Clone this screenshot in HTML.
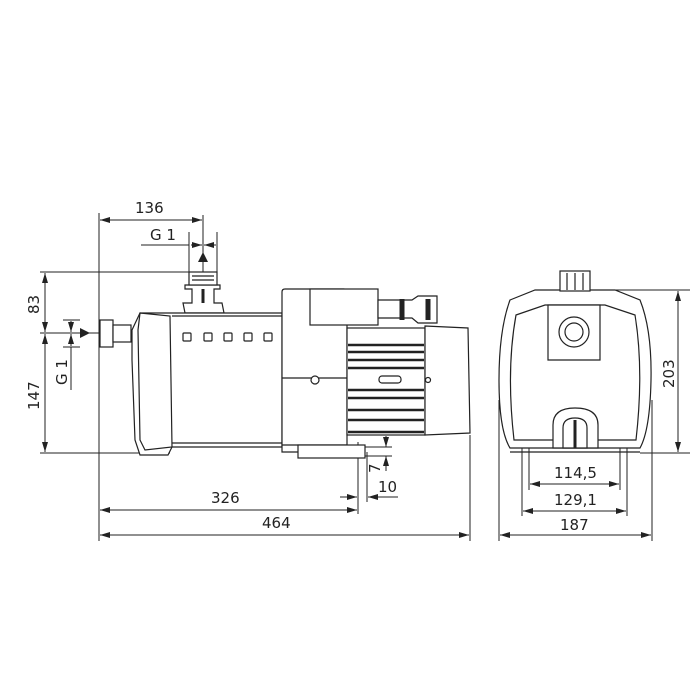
<!DOCTYPE html>
<html><head><meta charset="utf-8"><style>
html,body{margin:0;padding:0;background:#fff}
svg{display:block}
text{font-family:"DejaVu Sans","Liberation Sans",sans-serif;font-size:15px;fill:#222}
</style></head><body>
<svg width="700" height="700" viewBox="0 0 700 700" xmlns="http://www.w3.org/2000/svg">
<defs>
<marker id="a" viewBox="0 0 10 6" refX="10" refY="3" markerWidth="10" markerHeight="6" orient="auto-start-reverse" markerUnits="userSpaceOnUse"><path d="M0,0L10,3L0,6z" fill="#222"/></marker>
</defs>
<g stroke="#222" stroke-width="1" fill="none">
<!-- extension lines side view -->
<line x1="99" y1="213" x2="99" y2="541"/>
<line x1="470" y1="435" x2="470" y2="541"/>
<line x1="40" y1="272" x2="189" y2="272"/>
<line x1="40" y1="333" x2="100" y2="333"/>
<line x1="100" y1="333" x2="150" y2="333" stroke-dasharray="2,2"/>
<line x1="40" y1="453" x2="170" y2="453"/>
<line x1="203" y1="215" x2="203" y2="272"/>
<line x1="189" y1="232" x2="189" y2="272"/>
<line x1="217" y1="232" x2="217" y2="272"/>
<line x1="141" y1="245" x2="189" y2="245"/>
<!-- dims -->
<line x1="100" y1="220" x2="202" y2="220" marker-start="url(#a)" marker-end="url(#a)"/>
<line x1="191" y1="245" x2="202" y2="245" marker-end="url(#a)"/>
<line x1="216" y1="245" x2="204" y2="245" marker-end="url(#a)"/>
<line x1="45" y1="273" x2="45" y2="332" marker-start="url(#a)" marker-end="url(#a)"/>
<line x1="45" y1="334" x2="45" y2="452" marker-start="url(#a)" marker-end="url(#a)"/>
<line x1="63" y1="320" x2="80" y2="320"/>
<line x1="63" y1="347" x2="80" y2="347"/>
<line x1="71" y1="321" x2="71" y2="332" marker-end="url(#a)"/>
<line x1="71" y1="346" x2="71" y2="334" marker-end="url(#a)"/>
<line x1="71" y1="347" x2="71" y2="390"/>
<line x1="100" y1="510" x2="357" y2="510" marker-start="url(#a)" marker-end="url(#a)"/>
<line x1="100" y1="535" x2="469" y2="535" marker-start="url(#a)" marker-end="url(#a)"/>
<line x1="358" y1="442" x2="358" y2="514"/>
<line x1="367" y1="452" x2="367" y2="502"/>
<line x1="340" y1="497" x2="357" y2="497" marker-end="url(#a)"/>
<line x1="398" y1="497" x2="368" y2="497" marker-end="url(#a)"/>
<line x1="386" y1="436" x2="386" y2="447" marker-end="url(#a)"/>
<line x1="386" y1="471" x2="386" y2="456" marker-end="url(#a)"/>
<line x1="365" y1="447" x2="392" y2="447"/>
<line x1="365" y1="456" x2="392" y2="456"/>
</g>
<path d="M198,262L203,252L208,262z" fill="#222"/>
<path d="M80,328L90,333L80,338z" fill="#222"/>
<text x="135" y="213">136</text>
<text x="150" y="240">G 1</text>
<text x="316" y="213" display="none"></text>
<text transform="translate(39,314) rotate(-90)">83</text>
<text transform="translate(39,410) rotate(-90)">147</text>
<text transform="translate(67,385) rotate(-90)">G 1</text>
<text transform="translate(380,473) rotate(-90)">7</text>
<text x="378" y="492">10</text>
<text x="211" y="503">326</text>
<text x="262" y="528">464</text>

<!-- pump side view -->
<g stroke="#222" stroke-width="1.2" fill="#fff">
<rect x="100" y="320" width="13" height="27"/>
<rect x="113" y="325" width="18" height="17"/>
<path d="M185,313 L183,303 L192,303 L192,289 L185,289 L185,285 L220,285 L220,289 L214,289 L214,303 L222,303 L224,313 z"/>
<rect x="189" y="272" width="28" height="13"/>
<path d="M140,313 L282,313 L282,447 L172,447 L168,455 L140,455 L135,440 L132,360 L132,330 z"/>
<path d="M140,313 L170,316 L172,447 L145,450 L140,440 L138,330z" fill="none"/>
<line x1="172" y1="316" x2="282" y2="316"/>
<line x1="172" y1="443" x2="282" y2="443"/>
<path d="M282,292 Q282,289 285,289 L344,289 Q347,289 347,292 L347,452 L282,452 z"/>
<line x1="282" y1="378" x2="347" y2="378"/>
<line x1="282" y1="445" x2="347" y2="445"/>
<rect x="298" y="445" width="67" height="13"/>
<rect x="310" y="289" width="68" height="36"/>
<path d="M378,300 L412,300 L418,296 L437,296 L437,323 L418,323 L412,318 L378,318z"/>
<rect x="347" y="328" width="78" height="107"/>
<path d="M425,326 L468,328 L470,433 L425,435z"/>
<circle cx="315" cy="380" r="4"/>
<rect x="379" y="376" width="22" height="7" rx="3"/>
<circle cx="428" cy="380" r="2.5"/>
</g>
<g stroke="#222" stroke-width="1.2" fill="none">
<rect x="183" y="333" width="8" height="8" rx="1"/>
<rect x="204" y="333" width="8" height="8" rx="1"/>
<rect x="224" y="333" width="8" height="8" rx="1"/>
<rect x="244" y="333" width="8" height="8" rx="1"/>
<rect x="264" y="333" width="8" height="8" rx="1"/>
<line x1="192" y1="276" x2="214" y2="276"/><line x1="192" y1="280" x2="214" y2="280"/>
<line x1="203" y1="289" x2="203" y2="303" stroke-width="3"/>
</g>
<g stroke="#222" stroke-width="2.5">
<line x1="348" y1="345" x2="424" y2="345"/>
<line x1="348" y1="352" x2="424" y2="352"/>
<line x1="348" y1="360" x2="424" y2="360"/>
<line x1="348" y1="368" x2="424" y2="368"/>
<line x1="348" y1="390" x2="424" y2="390"/>
<line x1="348" y1="398" x2="424" y2="398"/>
<line x1="348" y1="410" x2="424" y2="410"/>
<line x1="348" y1="420" x2="424" y2="420"/>
<line x1="348" y1="432" x2="424" y2="432"/>
<line x1="402" y1="299" x2="402" y2="320" stroke-width="5"/>
<line x1="428" y1="299" x2="428" y2="320" stroke-width="5"/>
</g>

<!-- front view -->
<g stroke="#222" stroke-width="1" fill="none">
<line x1="590" y1="290" x2="690" y2="290"/>
<line x1="640" y1="453" x2="690" y2="453"/>
<line x1="678" y1="291" x2="678" y2="452" marker-start="url(#a)" marker-end="url(#a)"/>
<line x1="499" y1="400" x2="499" y2="541"/>
<line x1="652" y1="400" x2="652" y2="541"/>
<line x1="522" y1="440" x2="522" y2="516"/>
<line x1="627" y1="440" x2="627" y2="516"/>
<line x1="529" y1="440" x2="529" y2="490"/>
<line x1="620" y1="440" x2="620" y2="490"/>
<line x1="530" y1="484" x2="619" y2="484" marker-start="url(#a)" marker-end="url(#a)"/>
<line x1="523" y1="511" x2="626" y2="511" marker-start="url(#a)" marker-end="url(#a)"/>
<line x1="500" y1="535" x2="651" y2="535" marker-start="url(#a)" marker-end="url(#a)"/>
</g>
<text transform="translate(674,388) rotate(-90)">203</text>
<text x="554" y="478">114,5</text>
<text x="554" y="505">129,1</text>
<text x="560" y="530">187</text>
<g stroke="#222" stroke-width="1.2" fill="#fff">
<path d="M510,300 L535,290 L615,290 L640,300 Q652,330 651,380 Q650,430 640,448 L510,448 Q499,430 499,380 Q499,330 510,300z"/>
<path d="M516,315 L545,305 L605,305 L635,315 Q644,370 636,440 L514,440 Q506,370 516,315z"/>
<rect x="560" y="271" width="30" height="20"/>
<path d="M548,305 L600,305 L600,360 L548,360z"/>
<circle cx="574" cy="332" r="15"/>
<circle cx="574" cy="332" r="9"/>
<path d="M553,448 L553,425 Q553,408 575,408 Q598,408 598,425 L598,448z"/>
<path d="M563,448 L563,428 Q563,418 575,418 Q587,418 587,428 L587,448z"/>
</g>
<g stroke="#222" stroke-width="1.2">
<line x1="567" y1="273" x2="567" y2="290"/><line x1="575" y1="273" x2="575" y2="290"/><line x1="583" y1="273" x2="583" y2="290"/>
<line x1="575" y1="420" x2="575" y2="448" stroke-width="3"/>
<line x1="510" y1="452" x2="640" y2="452"/>
</g>
</svg>
</body></html>
